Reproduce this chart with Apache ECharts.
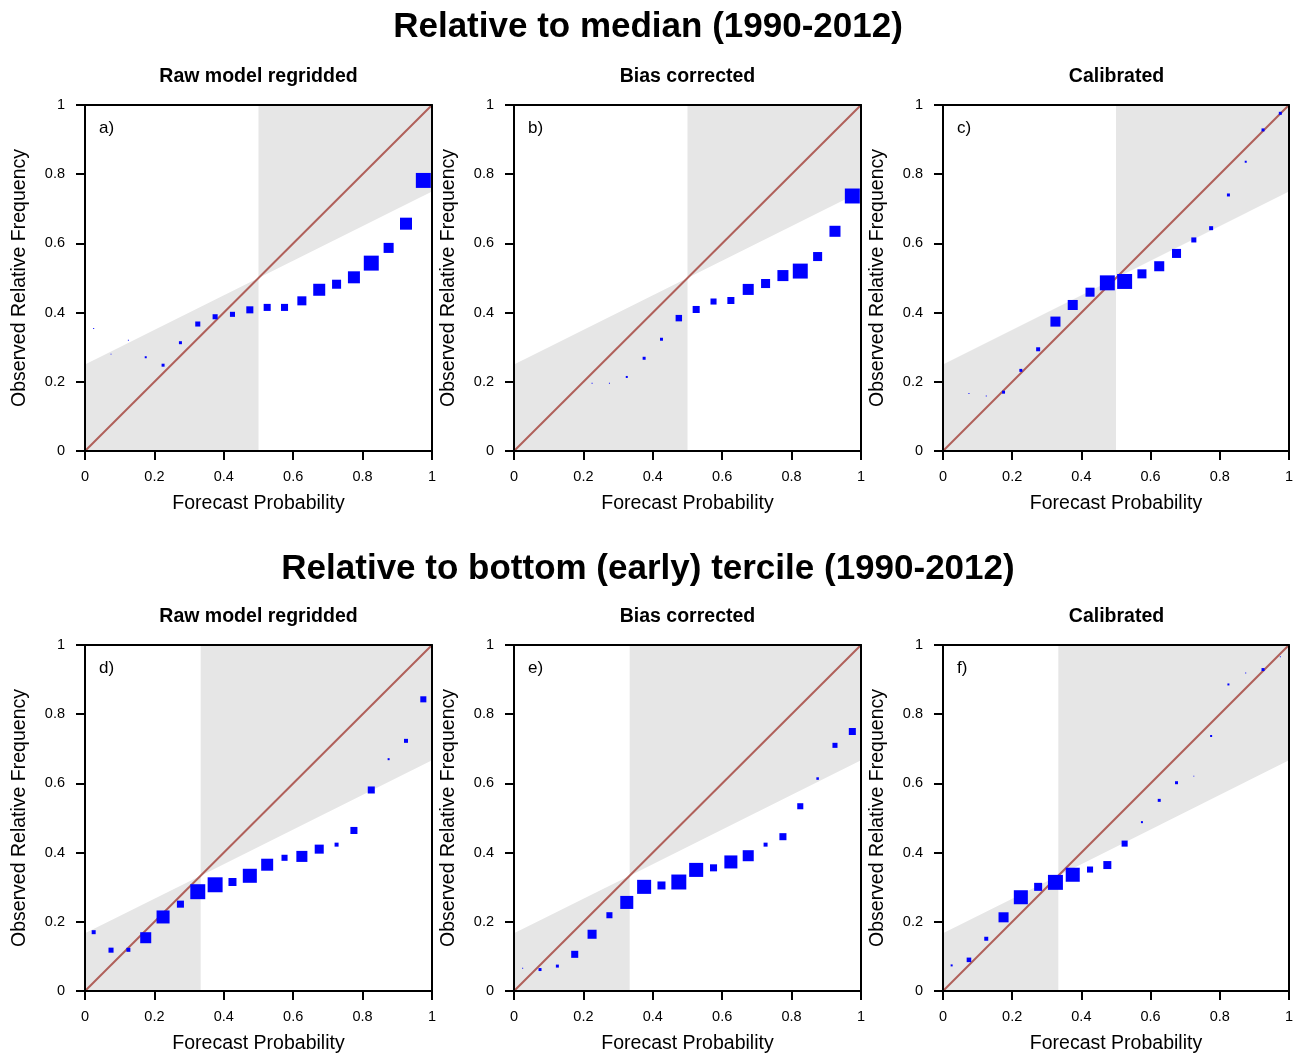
<!DOCTYPE html>
<html>
<head>
<meta charset="utf-8">
<script src="https://cdn.jsdelivr.net/npm/echarts@6/dist/echarts.min.js"></script>
<style>
  html, body { margin: 0; padding: 0; background: #fff; }
  #main { width: 1296px; height: 1055px; }
</style>
</head>
<body>
<div id="main"></div>
<script>
// bin centres of forecast probability (20 bins of 0.05)
var probBins = [0.025, 0.075, 0.125, 0.175, 0.225, 0.275, 0.325, 0.375, 0.425, 0.475,
                0.525, 0.575, 0.625, 0.675, 0.725, 0.775, 0.825, 0.875, 0.925, 0.975];
var xTicks = [0, 0.2, 0.4, 0.6, 0.8, 1];

// climatological frequency of each event
var climMedian = 0.5;
var climTercile = 1 / 3;

// observed relative frequency per bin (null = no forecasts in that bin)
var obsA = [0.354, 0.280, 0.320, 0.271, 0.248, 0.313, 0.367, 0.388, 0.395, 0.408,
            0.415, 0.415, 0.434, 0.466, 0.482, 0.502, 0.543, 0.587, 0.657, 0.782];
var obsB = [null, null, null, null, 0.196, 0.196, 0.214, 0.268, 0.323, 0.384,
            0.409, 0.432, 0.435, 0.467, 0.484, 0.507, 0.520, 0.562, 0.635, 0.737];
var obsC = [null, 0.166, 0.159, 0.170, 0.233, 0.294, 0.374, 0.422, 0.459, 0.486,
            0.490, 0.512, 0.534, 0.571, 0.610, 0.644, 0.740, 0.836, 0.928, 0.976];
var obsD = [0.170, 0.118, 0.119, 0.154, 0.214, 0.251, 0.287, 0.307, 0.315, 0.333,
            0.365, 0.385, 0.389, 0.410, 0.423, 0.464, 0.581, 0.670, 0.723, 0.843];
var obsE = [0.066, 0.062, 0.072, 0.106, 0.164, 0.219, 0.256, 0.301, 0.305, 0.315,
            0.350, 0.356, 0.373, 0.391, 0.423, 0.446, 0.534, 0.614, 0.710, 0.750];
var obsF = [0.074, 0.090, 0.151, 0.213, 0.271, 0.301, 0.314, 0.336, 0.351, 0.364,
            0.426, 0.488, 0.551, 0.602, 0.621, 0.737, 0.886, 0.919, 0.929, 0.966];

// how often each bin was forecast (% of forecasts), drawn as square size
var useA = [0.06, 0.06, 0.06, 0.25, 0.56, 0.56, 1.6, 1.6, 1.6, 3.1,
            3.1, 3.1, 5.1, 9, 5.1, 9, 14, 6.3, 9, 14];
var useB = [0, 0, 0, 0, 0.06, 0.06, 0.25, 0.56, 0.56, 2.6,
            3.1, 2.3, 3.1, 7.6, 5.1, 7.6, 14, 5.1, 7.6, 14];
var useC = [0, 0.06, 0.06, 0.56, 0.56, 1, 6.3, 6.3, 5.1, 14,
            14, 5.1, 6.3, 5.1, 1.6, 1, 0.56, 0.25, 0.56, 0.56];
var useD = [1, 1.6, 1, 7.6, 10.6, 3.1, 14, 14, 4, 12.3,
            9, 2.3, 7.6, 5.1, 1, 3.1, 3.1, 0.25, 1, 2.3];
var useE = [0.06, 0.56, 0.56, 3.1, 5.1, 2.3, 10.6, 12.3, 4, 14,
            12.3, 3.1, 10.6, 7.6, 1, 3.1, 2.3, 0.4, 1.6, 3.1];
var useF = [0.25, 1.3, 1, 6.3, 12.3, 4, 14, 12.3, 2.3, 4,
            2.3, 0.25, 0.56, 0.56, 0.06, 0.25, 0.25, 0.06, 0.56, 0.06];

var rowTitles = ['Relative to median (1990-2012)', 'Relative to bottom (early) tercile (1990-2012)'];
var colTitles = ['Raw model regridded', 'Bias corrected', 'Calibrated'];
var panelLabels = ['a)', 'b)', 'c)', 'd)', 'e)', 'f)'];

var panels = [
  { obs: obsA, use: useA, clim: climMedian },
  { obs: obsB, use: useB, clim: climMedian },
  { obs: obsC, use: useC, clim: climMedian },
  { obs: obsD, use: useD, clim: climTercile },
  { obs: obsE, use: useE, clim: climTercile },
  { obs: obsF, use: useF, clim: climTercile }
];

var FONT = '"Liberation Sans", Arial, Helvetica, sans-serif';
var gridLefts = [85, 514, 943];
var gridTops = [105, 645];
var W = 347, H = 346;

var myChart = echarts.init(document.getElementById('main'));

var titles = [], grids = [], xAxes = [], yAxes = [], series = [];

rowTitles.forEach(function (t, r) {
  titles.push({
    text: t, left: 'center', top: r === 0 ? 10 : 552, padding: 0,
    textStyle: { fontFamily: FONT, fontSize: 35, fontWeight: 'bold', color: '#000' }
  });
});

panels.forEach(function (p, i) {
  var row = Math.floor(i / 3), col = i % 3;
  var left = gridLefts[col], top = gridTops[row];

  titles.push({
    text: colTitles[col], left: left + W / 2, top: top - 38, textAlign: 'center', padding: 0,
    textStyle: { fontFamily: FONT, fontSize: 19.5, fontWeight: 'bold', color: '#000' }
  });
  titles.push({
    text: panelLabels[i], left: left + 14, top: top + 15, padding: 0,
    textStyle: { fontFamily: FONT, fontSize: 17, fontWeight: 'normal', color: '#000' }
  });

  grids.push({ left: left, top: top, width: W, height: H });

  var axisLine = { show: true, onZero: false, lineStyle: { color: '#000', width: 2 } };
  xAxes.push({
    type: 'value', gridIndex: i, min: 0, max: 1, interval: 0.2, z: 5,
    axisLine: axisLine,
    axisTick: { show: true, inside: false, length: 9, lineStyle: { color: '#000', width: 2 } },
    axisLabel: { fontFamily: FONT, fontSize: 14.5, color: '#000', margin: 18,
      customValues: xTicks },
    splitLine: { show: false },
    name: 'Forecast Probability', nameLocation: 'middle', nameGap: 43,
    nameTextStyle: { fontFamily: FONT, fontSize: 19.5, color: '#000' }
  });
  yAxes.push({
    type: 'value', gridIndex: i, min: 0, max: 1, interval: 0.2, z: 5,
    axisLine: axisLine,
    axisTick: { show: true, inside: false, length: 9, lineStyle: { color: '#000', width: 2 } },
    axisLabel: { fontFamily: FONT, fontSize: 14.5, color: '#000', margin: 20 },
    splitLine: { show: false },
    name: 'Observed Relative Frequency', nameLocation: 'middle', nameGap: 55,
    nameTextStyle: { fontFamily: FONT, fontSize: 19.5, color: '#000' }
  });
  // top / right frame
  xAxes.push({
    type: 'value', gridIndex: i, min: 0, max: 1, position: 'top', z: 5,
    axisLine: axisLine, axisTick: { show: false }, axisLabel: { show: false }, splitLine: { show: false }
  });
  yAxes.push({
    type: 'value', gridIndex: i, min: 0, max: 1, position: 'right', z: 5,
    axisLine: axisLine, axisTick: { show: false }, axisLabel: { show: false }, splitLine: { show: false }
  });

  var xi = i * 2, yi = i * 2;

  // skill region: between no-skill line and the vertical climatology line
  series.push({
    type: 'custom', xAxisIndex: xi, yAxisIndex: yi, silent: true, z: 1,
    data: [[p.clim]],
    renderItem: function (params, api) {
      var c = api.value(0);
      var noSkill = function (x) { return (x + c) / 2; };
      var leftPoly = [[0, 0], [c, 0], [c, noSkill(c)], [0, noSkill(0)]].map(api.coord);
      var rightPoly = [[c, noSkill(c)], [1, noSkill(1)], [1, 1], [c, 1]].map(api.coord);
      return {
        type: 'group',
        children: [
          { type: 'polygon', shape: { points: leftPoly }, style: { fill: '#e6e6e6' } },
          { type: 'polygon', shape: { points: rightPoly }, style: { fill: '#e6e6e6' } }
        ]
      };
    }
  });

  // perfect reliability diagonal
  series.push({
    type: 'line', xAxisIndex: xi, yAxisIndex: yi, silent: true, z: 2,
    data: [[0, 0], [1, 1]], showSymbol: false,
    lineStyle: { color: '#b0605a', width: 2 }
  });

  var pts = [];
  probBins.forEach(function (x, k) {
    if (p.obs[k] != null) pts.push([x, p.obs[k], p.use[k]]);
  });
  series.push({
    type: 'scatter', xAxisIndex: xi, yAxisIndex: yi, silent: true, z: 3,
    symbol: 'rect', clip: false,
    symbolSize: function (v) { return 4 * Math.sqrt(v[2]); },
    itemStyle: { color: '#0000ff', opacity: 1 },
    data: pts
  });
});

var option = {
  backgroundColor: '#fff',
  animation: false,
  title: titles,
  grid: grids,
  xAxis: xAxes,
  yAxis: yAxes,
  series: series
};

myChart.setOption(option);
</script>
</body>
</html>
